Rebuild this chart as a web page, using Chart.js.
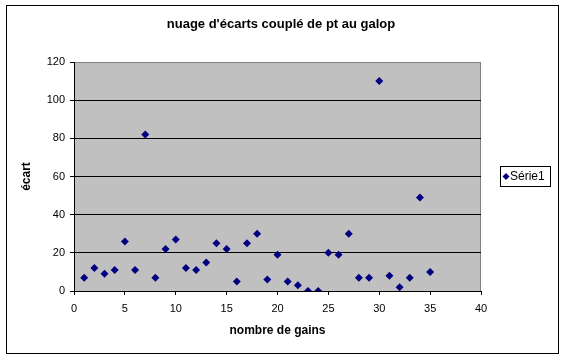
<!DOCTYPE html>
<html>
<head>
<meta charset="utf-8">
<script src="https://cdn.jsdelivr.net/npm/chart.js@4.4.1/dist/chart.umd.min.js"></script>
<style>
  html, body { margin: 0; padding: 0; background: #fff; }
  canvas { display: block; }
</style>
</head>
<body>
<canvas id="chart" width="566" height="360"></canvas>
<script>
// nombre de gains (x) et écart (y)
const gains = [1, 2, 3, 4, 5, 6, 7, 8, 9, 10, 11, 12, 13, 14, 15, 16, 17, 18, 19, 20,
  21, 22, 23, 24, 25, 26, 27, 28, 29, 30, 31, 32, 33, 34, 35];
const ecarts = [7, 12, 9, 11, 26, 11, 82, 7, 22, 27, 12, 11, 15, 25, 22, 5, 25, 30, 6, 19,
  5, 3, 0, 0, 20, 19, 30, 7, 7, 110, 8, 2, 7, 49, 10];
const seriesName = "Série1";
const chartTitle = "nuage d'écarts couplé de pt au galop";
const xTitle = "nombre de gains";
const yTitle = "écart";

const FONT = "'Liberation Sans', Arial, sans-serif";

// fond gris de la zone de tracé + cadre + titre + légende
const excelLook = {
  id: "excelLook",
  beforeDraw(chart) {
    const { ctx, chartArea: a } = chart;
    ctx.save();
    ctx.fillStyle = "#fff";
    ctx.fillRect(0, 0, chart.width, chart.height);
    ctx.fillStyle = "#c0c0c0";
    ctx.fillRect(a.left, a.top, a.right - a.left, a.bottom - a.top);
    ctx.strokeStyle = "#808080";
    ctx.lineWidth = 1;
    ctx.strokeRect(a.left + 0.5, a.top + 0.5, a.right - a.left - 1, a.bottom - a.top);
    ctx.restore();
  },
  afterDraw(chart) {
    const { ctx } = chart;
    ctx.save();
    // cadre extérieur
    ctx.strokeStyle = "#000";
    ctx.lineWidth = 1;
    ctx.strokeRect(6.5, 5.5, 552, 348);
    // titre, centré sur le cadre
    ctx.fillStyle = "#000";
    ctx.font = "bold 13px " + FONT;
    ctx.textAlign = "center";
    ctx.textBaseline = "middle";
    ctx.fillText(chartTitle, 281, 24);
    // légende
    ctx.textAlign = "left";
    ctx.strokeRect(500.5, 166.5, 50, 20);
    ctx.fillStyle = "#000080";
    ctx.beginPath();
    ctx.moveTo(506, 173);
    ctx.lineTo(509.5, 176.5);
    ctx.lineTo(506, 180);
    ctx.lineTo(502.5, 176.5);
    ctx.closePath();
    ctx.fill();
    ctx.fillStyle = "#000";
    ctx.font = "12px " + FONT;
    ctx.fillText(seriesName, 510, 177);
    ctx.restore();
  }
};

new Chart(document.getElementById("chart"), {
  type: "scatter",
  data: {
    datasets: [{
      label: seriesName,
      data: gains.map((g, i) => ({ x: g, y: ecarts[i] })),
      pointStyle: "rectRot",
      pointRadius: 4,
      pointHoverRadius: 4,
      backgroundColor: "#000080",
      borderColor: "#000080",
      borderWidth: 0
    }]
  },
  options: {
    responsive: false,
    animation: false,
    events: [],
    layout: { padding: { top: 62, left: 6, right: 85, bottom: 19 } },
    plugins: {
      legend: { display: false },
      tooltip: { enabled: false },
      title: { display: false }
    },
    scales: {
      x: {
        type: "linear",
        min: 0,
        max: 40,
        ticks: { stepSize: 5, color: "#000", padding: 7, maxRotation: 0,
          font: { family: FONT, size: 11 } },
        grid: { drawOnChartArea: false, tickLength: 4, tickColor: "#000" },
        border: { color: "#000" },
        title: {
          display: true, text: xTitle, color: "#000",
          font: { family: FONT, size: 12, weight: "bold" },
          padding: { top: 0, bottom: 2.8 }
        },
        afterFit(scale) { scale.height = 50; }
      },
      y: {
        min: 0,
        max: 120,
        ticks: { stepSize: 20, color: "#000", padding: 5,
          font: { family: FONT, size: 11 } },
        grid: {
          color: (c) => (c.tick && c.tick.value === 120 ? "#808080" : "#000"),
          tickColor: "#000",
          tickLength: 4
        },
        border: { color: "#000" },
        title: {
          display: true, text: yTitle, color: "#000",
          font: { family: FONT, size: 12, weight: "bold" },
          padding: { top: 13.8, bottom: 0 }
        },
        afterFit(scale) { scale.width = 68; }
      }
    }
  },
  plugins: [excelLook]
});
</script>
</body>
</html>
